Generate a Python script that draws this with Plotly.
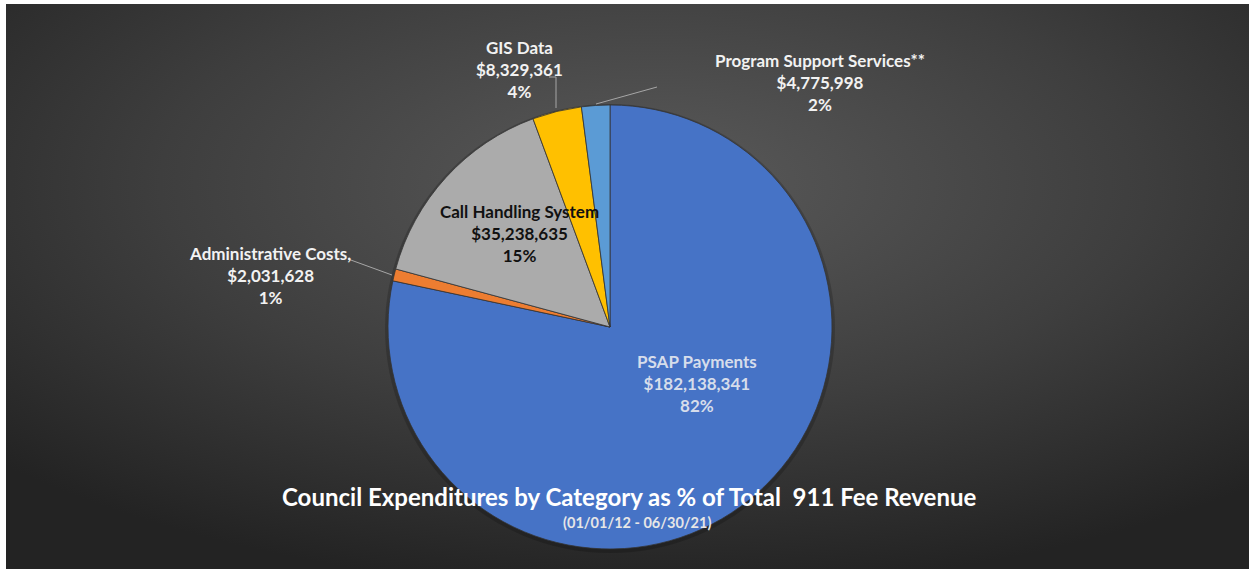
import base64
import plotly.graph_objects as go

W, H = 1249, 569

# ---- data ----
categories = ["PSAP Payments", "Administrative Costs,", "Call Handling System",
              "GIS Data", "Program Support Services**"]
amounts = [182138341, 2031628, 35238635, 8329361, 4775998]
pct_labels = ["82%", "1%", "15%", "4%", "2%"]
colors = ["#4673C6", "#ED7D31", "#ABABAB", "#FFC000", "#5B9BD5"]

title_text = "Council Expenditures by Category as % of Total  911 Fee Revenue"
subtitle_text = "(01/01/12 - 06/30/21)"

FONT = "Lato"


def fx(p):
    return p / W


def fy(p):
    return 1 - p / H


# pie geometry (pixels)
cx, cy, r = 610, 327, 222

svg = (
    "<svg xmlns='http://www.w3.org/2000/svg' width='1243' height='565' "
    "viewBox='0 0 1243 565' preserveAspectRatio='none'><defs>"
    "<radialGradient id='g' cx='0.52' cy='0.32' r='0.72'>"
    "<stop offset='0' stop-color='#5a5a5a'/>"
    "<stop offset='0.55' stop-color='#3e3e3e'/>"
    "<stop offset='1' stop-color='#232323'/>"
    "</radialGradient></defs>"
    "<rect width='100%' height='100%' fill='url(#g)'/></svg>"
)
bg_src = "data:image/svg+xml;base64," + base64.b64encode(svg.encode()).decode()

fig = go.Figure()
fig.add_trace(go.Pie(
    labels=categories,
    values=amounts,
    sort=False,
    direction="clockwise",
    rotation=0,
    marker=dict(colors=colors, line=dict(color="#333333", width=0.8)),
    textinfo="none",
    hoverinfo="label+value",
    showlegend=False,
    domain=dict(x=[fx(cx - r), fx(cx + r)], y=[fy(cy + r), fy(cy - r)]),
))


def label(i, x, y, color="#F2F2F2", size=17):
    txt = f"<b>{categories[i]}</b><br><b>${amounts[i]:,}</b><br><b>{pct_labels[i]}</b>"
    return dict(text=txt, x=fx(x), y=fy(y), xref="paper", yref="paper",
                showarrow=False, xanchor="center", yanchor="middle",
                align="center", font=dict(family=FONT, size=size, color=color))


annotations = [
    label(0, 697, 383, color="#D6DDEB"),
    label(1, 270, 275),
    label(2, 519, 233, color="#111111"),
    label(3, 519, 69),
    label(4, 820, 83),
    dict(text=f"<b>{title_text}</b>", x=fx(629), y=fy(496), xref="paper", yref="paper",
         showarrow=False, xanchor="center", yanchor="middle",
         font=dict(family=FONT, size=24, color="#FFFFFF")),
    dict(text=f"<b>{subtitle_text}</b>", x=fx(637), y=fy(522), xref="paper", yref="paper",
         showarrow=False, xanchor="center", yanchor="middle",
         font=dict(family=FONT, size=14.5, color="#E6E6E6")),
]

leader = dict(color="#A6A6A6", width=1)
shapes = [
    # soft shadow under the pie
    dict(type="circle", xref="paper", yref="paper", layer="below",
         x0=fx(cx - r - 3), x1=fx(cx + r + 3), y0=fy(cy + r + 4), y1=fy(cy - r - 1),
         fillcolor="rgba(0,0,0,0.18)", line=dict(width=0)),
    # leader lines
    dict(type="path", xref="paper", yref="paper",
         path=f"M {fx(549)},{fy(77)} L {fx(556)},{fy(77)} L {fx(556)},{fy(108)}",
         line=leader),
    dict(type="line", xref="paper", yref="paper",
         x0=fx(596), y0=fy(104), x1=fx(657), y1=fy(87), line=leader),
    dict(type="line", xref="paper", yref="paper",
         x0=fx(348), y0=fy(259), x1=fx(392), y1=fy(275), line=leader),
]

fig.update_layout(
    width=W, height=H,
    margin=dict(l=0, r=0, t=0, b=0),
    paper_bgcolor="#FFFFFF",
    plot_bgcolor="#FFFFFF",
    images=[dict(source=bg_src, xref="paper", yref="paper",
                 x=fx(6), y=fy(4), sizex=fx(W - 6), sizey=(H - 4) / H,
                 xanchor="left", yanchor="top", sizing="stretch", layer="below")],
    annotations=annotations,
    shapes=shapes,
)

fig.write_html("out.html")
